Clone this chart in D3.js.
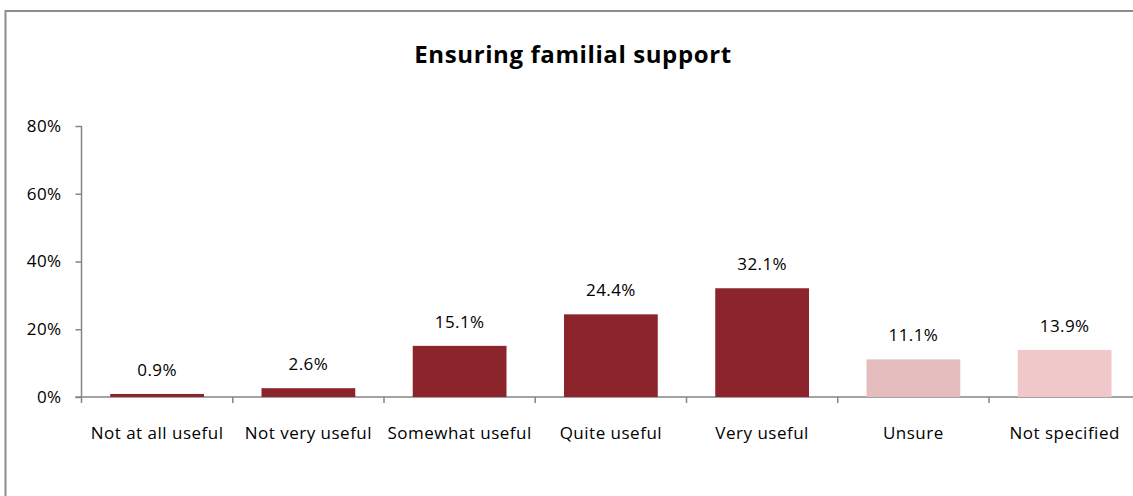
<!DOCTYPE html>
<html>
<head>
<meta charset="utf-8">
<script src="https://cdn.jsdelivr.net/npm/d3@7"></script>
<style>
  body { margin: 0; background: #fff; }
  svg { display: block; font-family: "Open Sans", sans-serif; }
</style>
</head>
<body>
<svg width="1133" height="496"></svg>
<script>
// chart data
var categories = ["Not at all useful", "Not very useful", "Somewhat useful", "Quite useful", "Very useful", "Unsure", "Not specified"];
var values = [0.9, 2.6, 15.1, 24.4, 32.1, 11.1, 13.9];
var barColors = ["#8b252b", "#8b252b", "#8b252b", "#8b252b", "#8b252b", "#e6bdbe", "#f0c8c9"];
var yTicks = [0, 20, 40, 60, 80];

var svg = d3.select("svg"),
    width = +svg.attr("width"),
    height = +svg.attr("height");

var fontSize = 17;

// outer frame (only left and top edges show in the crop)
svg.append("rect")
    .attr("x", 5.5).attr("y", 11)
    .attr("width", width + 20).attr("height", height + 20)
    .attr("fill", "none")
    .attr("stroke", "#8c8c8c")
    .attr("stroke-width", 2);

svg.append("text")
    .attr("x", 573).attr("y", 63)
    .attr("text-anchor", "middle")
    .attr("font-size", 24)
    .attr("font-weight", "bold")
    .attr("letter-spacing", 0.6)
    .attr("fill", "#000")
    .text("Ensuring familial support");

var x0 = 81.5, step = 151.25;
var x = d3.scaleBand()
    .domain(categories)
    .range([x0, x0 + step * categories.length])
    .paddingInner(0.38)
    .paddingOuter(0.19);

var y = d3.scaleLinear()
    .domain([0, 80])
    .range([397, 126]);

// y axis
var yAxis = svg.append("g")
    .attr("transform", "translate(" + x0 + ",0)")
    .call(d3.axisLeft(y).tickValues(yTicks).tickSize(6).tickPadding(14)
        .tickFormat(function (d) { return d + "%"; }));
yAxis.select(".domain").attr("stroke", "#868686").attr("stroke-width", 1.5).attr("d", "M0," + y(80) + "V" + y(0));
yAxis.selectAll(".tick line").attr("stroke", "#868686").attr("stroke-width", 1.5);
yAxis.selectAll(".tick text")
    .attr("font-size", fontSize)
    .attr("letter-spacing", 0.4)
    .attr("fill", "#000")
    .attr("font-family", "Open Sans");

// x axis
var xAxis = svg.append("g")
    .attr("transform", "translate(0," + y(0) + ")");
xAxis.append("line")
    .attr("x1", x0 - 6).attr("x2", width)
    .attr("stroke", "#868686").attr("stroke-width", 1.5);
xAxis.selectAll(".sep")
    .data(d3.range(categories.length + 1))
    .enter().append("line")
    .attr("x1", function (i) { return x0 + i * step; })
    .attr("x2", function (i) { return x0 + i * step; })
    .attr("y1", 0).attr("y2", 6)
    .attr("stroke", "#868686").attr("stroke-width", 1.5);
xAxis.selectAll(".cat")
    .data(categories)
    .enter().append("text")
    .attr("x", function (d) { return x(d) + x.bandwidth() / 2; })
    .attr("y", 42)
    .attr("text-anchor", "middle")
    .attr("font-size", fontSize)
    .attr("letter-spacing", 0.5)
    .attr("fill", "#000")
    .text(function (d) { return d; });

// bars
svg.append("g").selectAll("rect")
    .data(values)
    .enter().append("rect")
    .attr("x", function (d, i) { return x(categories[i]); })
    .attr("y", function (d) { return y(d); })
    .attr("width", x.bandwidth())
    .attr("height", function (d) { return y(0) - y(d); })
    .attr("fill", function (d, i) { return barColors[i]; });

// value labels
svg.append("g").selectAll("text")
    .data(values)
    .enter().append("text")
    .attr("x", function (d, i) { return x(categories[i]) + x.bandwidth() / 2; })
    .attr("y", function (d) { return y(d) - 18; })
    .attr("text-anchor", "middle")
    .attr("font-size", fontSize)
    .attr("letter-spacing", 0.4)
    .attr("fill", "#000")
    .text(function (d) { return d.toFixed(1) + "%"; });
</script>
</body>
</html>
